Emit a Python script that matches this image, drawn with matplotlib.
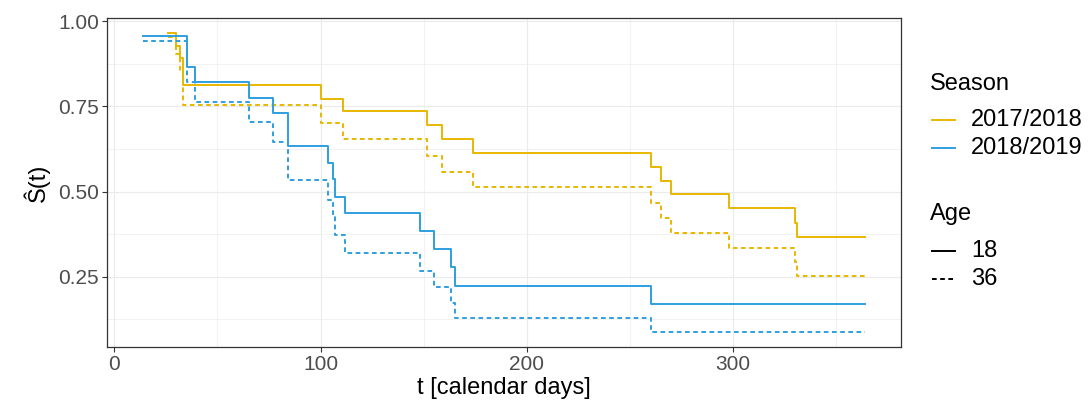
import matplotlib
matplotlib.use("Agg")
import matplotlib.pyplot as plt
from matplotlib.lines import Line2D

plt.rcParams['font.family'] = ['Liberation Sans', 'DejaVu Sans']

# Kaplan-Meier style step curves
t_1718 = [26.2, 29.7, 31.8, 33.1, 100.0, 111.0, 151.8, 158.9, 173.9, 260.0, 264.9, 270.1, 298.0, 330.0, 330.8, 364]
s_1718_age18 = [0.966, 0.928, 0.891, 0.812, 0.772, 0.735, 0.694, 0.654, 0.614, 0.573, 0.532, 0.492, 0.451, 0.409, 0.367, 0.367]
s_1718_age36 = [0.953, 0.903, 0.853, 0.753, 0.702, 0.654, 0.605, 0.558, 0.512, 0.467, 0.421, 0.377, 0.335, 0.294, 0.253, 0.253]

t_1819 = [14.0, 35.1, 39.1, 65.1, 77.0, 84.3, 103.7, 106.1, 106.9, 112.0, 148.1, 155.0, 163.1, 165.1, 260.0, 364]
s_1819_age18 = [0.957, 0.866, 0.820, 0.775, 0.729, 0.633, 0.584, 0.536, 0.485, 0.436, 0.383, 0.331, 0.278, 0.224, 0.170, 0.170]
s_1819_age36 = [0.941, 0.822, 0.763, 0.705, 0.646, 0.535, 0.475, 0.425, 0.372, 0.320, 0.268, 0.219, 0.174, 0.129, 0.089, 0.089]

seasons = ["2017/2018", "2018/2019"]
ages = ["18", "36"]
colors = ["#E7B800", "#2E9FDF"]

W, H = 1089, 403
fig = plt.figure(figsize=(W / 100, H / 100), dpi=100)
ax = fig.add_axes([107.3 / W, 1 - 346.7 / H, (901 - 107.3) / W, (346.7 - 18.3) / H])

lw = 1.4
dash = (0, (2.4, 1.8))
ax.step(t_1718, s_1718_age18, where="post", color=colors[0], lw=lw)
ax.step(t_1718, s_1718_age36, where="post", color=colors[0], lw=lw, linestyle=dash)
ax.step(t_1819, s_1819_age18, where="post", color=colors[1], lw=lw)
ax.step(t_1819, s_1819_age36, where="post", color=colors[1], lw=lw, linestyle=dash)

ax.set_xlim(-3.4, 381.4)
ax.set_ylim(0.045, 1.008)
ax.set_xticks([0, 100, 200, 300])
ax.set_xticks([50, 150, 250, 350], minor=True)
ax.set_yticks([0.25, 0.5, 0.75, 1.0])
ax.set_yticklabels(["0.25", "0.50", "0.75", "1.00"])
ax.set_yticks([0.125, 0.375, 0.625, 0.875], minor=True)
ax.grid(True, which="major", color="#EBEBEB", lw=0.8)
ax.grid(True, which="minor", color="#EBEBEB", lw=0.45)
ax.set_axisbelow(True)
ax.tick_params(which="major", length=3.6, width=0.8, color="#333333",
               labelsize=15, labelcolor="#4D4D4D", pad=2.5)
ax.tick_params(which="minor", length=0)
for sp in ax.spines.values():
    sp.set_color("#333333")
    sp.set_linewidth(0.9)

ax.set_xlabel("t [calendar days]", fontsize=17, labelpad=2)
ax.set_ylabel("Ŝ(t)", fontsize=17, labelpad=6)

# legend, drawn by hand to sit where ggplot put it
def fx(x):
    return x / W

def fy(y):
    return 1 - y / H

fig.text(fx(930), fy(84), "Season", fontsize=17, va="center", ha="left")
for i, lab in enumerate(seasons):
    y = 120 + i * 28.3
    fig.add_artist(Line2D([fx(932), fx(955)], [fy(y), fy(y)], color=colors[i], lw=lw))
    fig.text(fx(971), fy(y), lab, fontsize=17, va="center", ha="left")

fig.text(fx(930), fy(214), "Age", fontsize=17, va="center", ha="left")
for i, lab in enumerate(ages):
    y = 251 + i * 28.3
    fig.add_artist(Line2D([fx(932), fx(955)], [fy(y), fy(y)], color="black", lw=lw,
                          linestyle="-" if i == 0 else dash))
    fig.text(fx(971), fy(y), lab, fontsize=17, va="center", ha="left")

fig.savefig("out.png", dpi=100)
